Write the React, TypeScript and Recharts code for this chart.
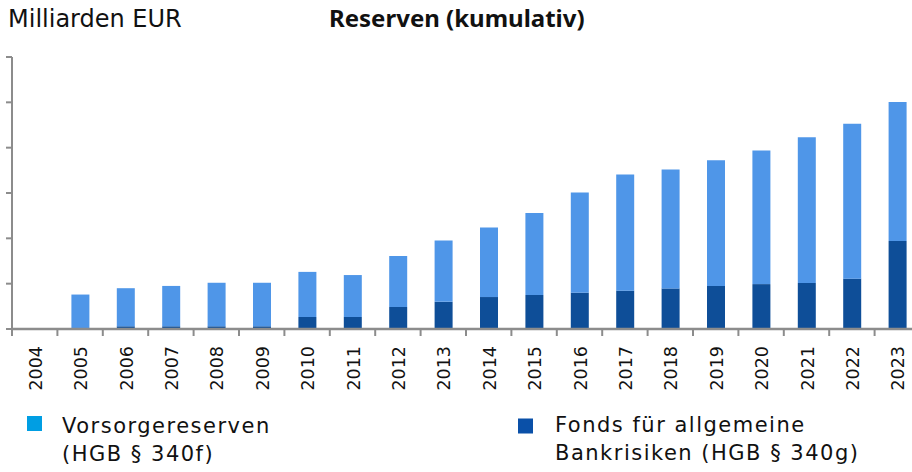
import { BarChart, Bar, XAxis, YAxis } from "recharts";

const years = [
  "2004", "2005", "2006", "2007", "2008", "2009", "2010", "2011", "2012", "2013",
  "2014", "2015", "2016", "2017", "2018", "2019", "2020", "2021", "2022", "2023",
];
// Fonds für allgemeine Bankrisiken (HGB § 340g)
const fonds = [0, 0, 0.6, 0.6, 0.6, 0.6, 2.65, 2.65, 4.85, 6.0, 7.05, 7.5, 8.0, 8.45, 8.95, 9.5, 9.9, 10.15, 11.1, 19.4];
// Vorsorgereserven (HGB § 340f)
const vorsorge = [0, 7.6, 8.4, 8.9, 9.6, 9.6, 9.95, 9.25, 11.25, 13.5, 15.35, 18.1, 22.1, 25.65, 26.25, 27.7, 29.5, 32.15, 34.2, 30.7];
const yTicks = [0, 10, 20, 30, 40, 50, 60];

const data = years.map((year, i) => ({ year, fonds: fonds[i], vorsorge: vorsorge[i] }));

const FONT = "'DejaVu Sans', sans-serif";
const AXIS = "#8c8c8c";
const TEXT = "#111";
const CHART_W = 920;
const PLOT_LEFT = 12;
const BAND = (CHART_W - PLOT_LEFT) / years.length;

const XTick = (props: any) => {
  const { x, y, payload } = props;
  const bx = x - BAND / 2;
  return (
    <g>
      <line x1={bx} x2={bx} y1={y} y2={y + 7} stroke={AXIS} strokeWidth={2} />
      <text
        x={x + 1}
        y={y + 17}
        transform={`rotate(-90, ${x + 1}, ${y + 17})`}
        textAnchor="end"
        dy="0.35em"
        fontSize={17.5}
        fontFamily={FONT}
        fill={TEXT}
      >
        {payload.value}
      </text>
    </g>
  );
};

export default function App() {
  return (
    <div style={{ position: "absolute", left: 0, top: 0, width: 912, height: 472, overflow: "hidden", background: "#fff" }}>
      <BarChart
        width={CHART_W}
        height={472}
        data={data}
        margin={{ top: 57, right: 0, bottom: 0, left: 0 }}
        barCategoryGap={0}
      >
        <XAxis
          dataKey="year"
          interval={0}
          height={143}
          tickSize={0}
          tickMargin={0}
          tickLine={false}
          tick={<XTick />}
          axisLine={{ stroke: AXIS, strokeWidth: 2.5 }}
        />
        <YAxis
          width={PLOT_LEFT}
          domain={[0, 60]}
          ticks={yTicks}
          tickSize={6}
          tick={() => <g />}
          tickLine={{ stroke: AXIS, strokeWidth: 2 }}
          axisLine={{ stroke: AXIS, strokeWidth: 2 }}
        />
        <Bar dataKey="fonds" stackId="a" fill="#0e4e98" barSize={18} isAnimationActive={false} />
        <Bar dataKey="vorsorge" stackId="a" fill="#4f96e8" barSize={18} isAnimationActive={false} />
      </BarChart>
      {/* titles and legend */}
      <svg width={912} height={472} style={{ position: "absolute", left: 0, top: 0, pointerEvents: "none" }}>
        <text x={8} y={26.7} fontFamily={FONT} fontSize={24} fill={TEXT}>Milliarden EUR</text>
        <text x={329} y={26.7} fontFamily="'Noto Sans', sans-serif" fontWeight={700} fontSize={24} fill={TEXT}>
          Reserven (kumulativ)
        </text>
        <rect x={27} y={416} width={15} height={15} fill="#009ee3" />
        <text fontFamily={FONT} fontSize={21} letterSpacing={1.5} fill={TEXT}>
          <tspan x={62} y={432.7}>Vorsorgereserven</tspan>
          <tspan x={62} y={460.7}>(HGB § 340f)</tspan>
        </text>
        <rect x={518} y={418.5} width={15} height={15} fill="#0a50a8" />
        <text fontFamily={FONT} fontSize={21} letterSpacing={1.5} fill={TEXT}>
          <tspan x={555} y={432.3}>Fonds für allgemeine</tspan>
          <tspan x={555} y={460}>Bankrisiken (HGB § 340g)</tspan>
        </text>
      </svg>
    </div>
  );
}
